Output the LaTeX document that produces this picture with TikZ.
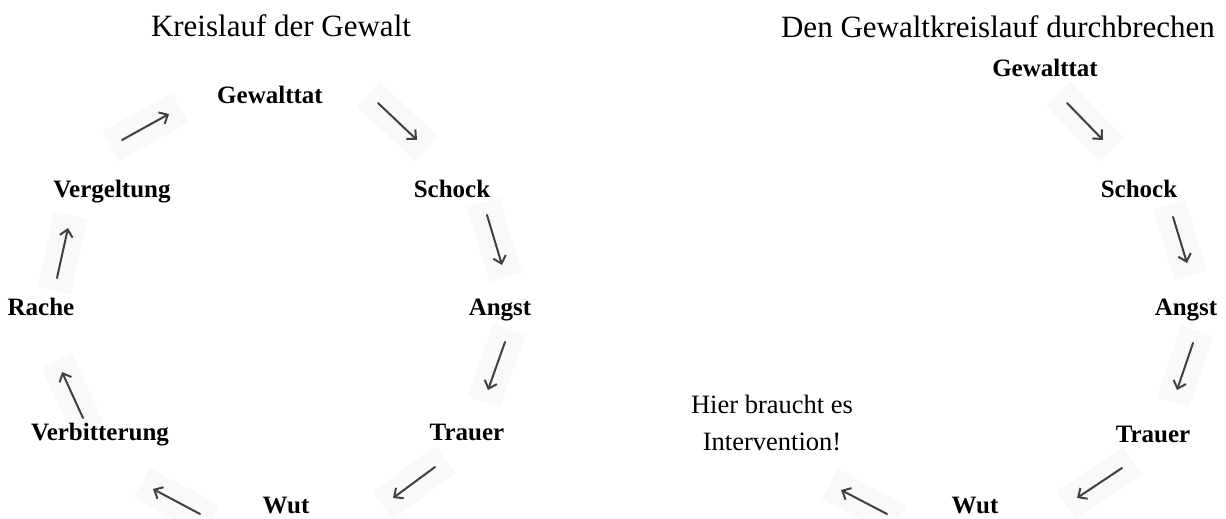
\documentclass[tikz,border=0pt]{standalone}
\usepackage{fontspec}
\setmainfont{Liberation Serif}
\usetikzlibrary{arrows.meta,calc}
\tikzset{
  lab/.style={font=\fontsize{25}{30}\selectfont\bfseries, anchor=base, inner sep=0pt},
  ttl/.style={font=\fontsize{31}{36}\selectfont, anchor=base, inner sep=0pt},
  note/.style={font=\fontsize{26.5}{34}\selectfont, anchor=base, inner sep=0pt},
  arr/.style={draw=black!75, line width=2pt, line cap=round,
    -{Straight Barb[length=7pt,width=13pt,line width=2pt]}},
  bgbox/.style={fill=black!2.5, draw=none, minimum height=34pt, inner sep=0pt}
}
\begin{document}
\begin{tikzpicture}[x=1pt,y=-1pt]
\useasboundingbox (0,0) rectangle (1226,519);
% titles
\node[ttl] (t1) at (281,37) {Kreislauf der Gewalt};
\node[ttl] (t2) at (998,38) {Den Gewaltkreislauf durchbrechen};
% arrow end points, left cycle
\coordinate (l1s) at (122,140); \coordinate (l1e) at (169,114);
\coordinate (l2s) at (378,103); \coordinate (l2e) at (417,140);
\coordinate (l3s) at (487,215); \coordinate (l3e) at (502,265);
\coordinate (l4s) at (505,342); \coordinate (l4e) at (488,390);
\coordinate (l5s) at (435,467); \coordinate (l5e) at (393,498);
\coordinate (l6s) at (200,514); \coordinate (l6e) at (153,489);
\coordinate (l7s) at (83,418);  \coordinate (l7e) at (62,372);
\coordinate (l8s) at (57,278);  \coordinate (l8e) at (68,228);
% right cycle
\coordinate (r2s) at (1067,103); \coordinate (r2e) at (1103,140);
\coordinate (r3s) at (1173,217); \coordinate (r3e) at (1187,263);
\coordinate (r4s) at (1193,343); \coordinate (r4e) at (1177,390);
\coordinate (r5s) at (1122,468); \coordinate (r5e) at (1077,498);
\coordinate (r6s) at (887,514);  \coordinate (r6e) at (841,490);
% faint backgrounds
\foreach \s/\e in {l1s/l1e,l2s/l2e,l3s/l3e,l4s/l4e,l5s/l5e,l6s/l6e,l7s/l7e,l8s/l8e,
                   r2s/r2e,r3s/r3e,r4s/r4e,r5s/r5e,r6s/r6e}{
  \path let \p1=($(\e)-(\s)$), \n1={atan2(\y1,\x1)}, \n2={veclen(\x1,\y1)} in
    node[bgbox, rotate=\n1, minimum width=\n2+26pt] at ($(\s)!0.5!(\e)$) {};
}
% arrows
\foreach \s/\e in {l1s/l1e,l2s/l2e,l3s/l3e,l4s/l4e,l5s/l5e,l6s/l6e,l7s/l7e,l8s/l8e,
                   r2s/r2e,r3s/r3e,r4s/r4e,r5s/r5e,r6s/r6e}{
  \draw[arr] (\s) -- (\e);
}
% left labels
\node[lab] (lgew) at (270,103) {Gewalttat};
\node[lab] (lsch) at (452,197) {Schock};
\node[lab] (lang) at (500,315) {Angst};
\node[lab] (ltra) at (467,440) {Trauer};
\node[lab] (lwut) at (286,513) {Wut};
\node[lab] (lver) at (100,440) {Verbitterung};
\node[lab] (lrac) at (41,315) {Rache};
\node[lab] (lvgl) at (112,197) {Vergeltung};
% right labels
\node[lab] (rgew) at (1045,77) {Gewalttat};
\node[lab] (rsch) at (1139,197) {Schock};
\node[lab] (rang) at (1186,315) {Angst};
\node[lab] (rtra) at (1153,442) {Trauer};
\node[lab] (rwut) at (975,513) {Wut};
\node[note] (n1) at (772,413) {Hier braucht es};
\node[note] (n2) at (772,450) {Intervention!};
\end{tikzpicture}
\end{document}
